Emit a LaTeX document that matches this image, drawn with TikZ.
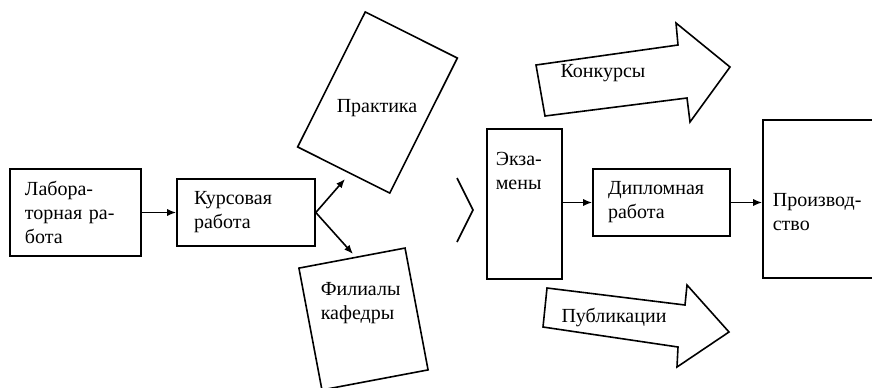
\documentclass[tikz,border=0pt]{standalone}
\usepackage{fontspec}
\setmainfont{Liberation Serif}
\usepackage{tikz}
\usetikzlibrary{arrows.meta}

\begin{document}
\begin{tikzpicture}[x=0.5pt,y=-0.5pt,line width=0.8pt,>={Latex[length=4.5pt,width=3.6pt]},
	every node/.style={font=\fontsize{10}{12}\selectfont},
	box/.style={draw,align=left,inner ysep=0pt},
	frame/.style={draw,inner sep=0pt},
	txt/.style={align=left,inner sep=0pt,anchor=north west}]
	\useasboundingbox (0,0) rectangle (872,387);

  	\node[box,text width=50.5pt,inner xsep=7.5pt,minimum height=43.5pt] (lab) at (75.5,212.5) {Лабора-\\торная ра-\\бота};
  	\node[box,text width=52pt,inner xsep=8.5pt,minimum height=33.5pt] (kurs) at (246,212.5) {Курсовая\\работа};
  	\node[frame,rotate=-26.6,minimum width=51.5pt,minimum height=75.5pt] (prakt) at (377.5,102.5) {};
  	\node (prakttext) at (377,108) {Практика};
  	\node[frame,rotate=10.7,minimum width=54pt,minimum height=62pt] (fil) at (363.5,319) {};
  	\node[txt] (filtext) at (320,282) {Филиалы\\кафедры};
  	\node[frame,minimum width=37.5pt,minimum height=75pt] (exam) at (524.5,204) {};
  	\node[txt] (examtext) at (495,151) {Экза-\\мены};
  	\node[box,text width=53.5pt,inner xsep=7.5pt,minimum height=33.5pt] (dipl) at (661.5,202.5) {Дипломная\\работа};
  	\node[frame,minimum width=60pt,minimum height=79pt] (prod) at (823,199) {};
  	\node[txt,anchor=west] (prodtext) at (772,212.5) {Производ-\\ство};
  	\coordinate (up) at (345,179);
  	\coordinate (dn) at (353,254);

	\draw[->] (lab) -- (kurs);
	\draw[->] (kurs.east) -- (up);
	\draw[->] (kurs.east) -- (dn);
	\draw[->] (exam.east |- dipl) -- (dipl);
	\draw[->] (dipl) -- (dipl -| prod.west);

	\draw (457,178) -- (473,210) -- (457,242);

	\draw (536,65) -- (678,45) -- (676,23) -- (730,67) -- (690,122) -- (687,98) -- (545,116) -- cycle;
	\node (konk) at (603,73) {Конкурсы};
	\draw (547,288) -- (685,305) -- (687,285) -- (729,332) -- (677,367) -- (678,347) -- (543,327) -- cycle;
	\node (publ) at (614,317) {Публикации};

\end{tikzpicture}
\end{document}
